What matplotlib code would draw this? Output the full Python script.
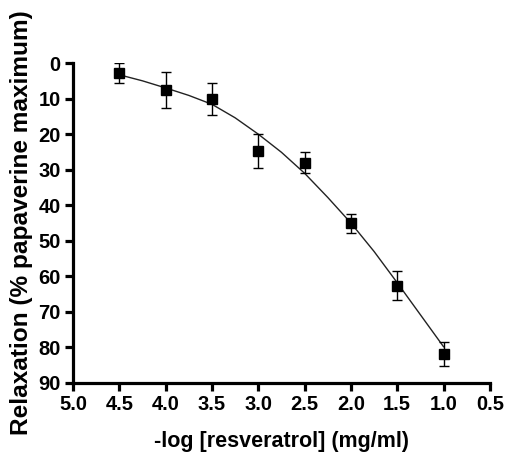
import matplotlib
matplotlib.use("Agg")
from matplotlib import pyplot as plt

plt.rcParams['font.family'] = ['Liberation Sans', 'DejaVu Sans']
plt.rcParams['font.weight'] = 'bold'

# mean points with SEM
log_conc = [4.5, 4.0, 3.5, 3.0, 2.5, 2.0, 1.5, 1.0]
relax = [2.8, 7.6, 10.1, 24.7, 28.0, 45.1, 62.6, 81.8]
sem = [2.7, 5.0, 4.4, 4.7, 2.9, 2.7, 4.1, 3.4]

# fitted curve
fit_x = [4.5, 4.25, 4.0, 3.75, 3.5, 3.25, 3.0, 2.75, 2.5, 2.25, 2.0, 1.75, 1.5, 1.25, 1.0]
fit_y = [3.3, 5.0, 7.0, 9.1, 11.6, 15.4, 20.0, 25.1, 31.0, 37.8, 45.0, 53.0, 61.8, 70.8, 79.8]

xticks = [5.0, 4.5, 4.0, 3.5, 3.0, 2.5, 2.0, 1.5, 1.0, 0.5]
yticks = [0, 10, 20, 30, 40, 50, 60, 70, 80, 90]

fig = plt.figure(figsize=(5.05, 4.57), dpi=100)
ax = fig.add_axes([0.1446, 0.162, 0.8254, 0.700])

ax.plot(fit_x, fit_y, color='#222222', lw=1.0, zorder=2)
ax.errorbar(log_conc, relax, yerr=sem, fmt='s', color='black', ms=6.8,
            ecolor='black', elinewidth=1.0, capsize=3.4, capthick=1.0, zorder=3)

ax.set_xlim(5.0, 0.5)
ax.set_ylim(90, 0)
ax.set_xticks(xticks)
ax.set_xticklabels([f"{t:.1f}" for t in xticks])
ax.set_yticks(yticks)

for side in ('top', 'right'):
    ax.spines[side].set_visible(False)
for side in ('left', 'bottom'):
    ax.spines[side].set_linewidth(2.3)
ax.tick_params(width=2.3, length=6, labelsize=14.5, pad=3)
for lab in ax.get_xticklabels() + ax.get_yticklabels():
    lab.set_fontweight('bold')

ax.set_xlabel('-log [resveratrol] (mg/ml)', fontsize=15.5, fontweight='bold', labelpad=12)
ax.set_ylabel('Relaxation (% papaverine maximum)', fontsize=17.6, fontweight='bold')
ax.yaxis.set_label_coords(-0.096, 0.5)

fig.savefig('out.png', dpi=100)
